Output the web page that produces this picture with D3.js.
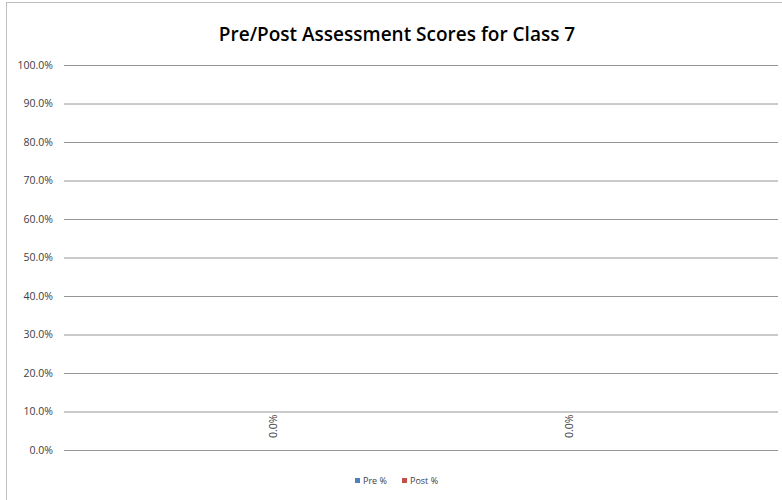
<!DOCTYPE html>
<html>
<head>
<meta charset="utf-8">
<script src="https://cdn.jsdelivr.net/npm/d3@7"></script>
<style>
  body { margin: 0; background: #fff; }
  text { font-family: "Open Sans", "Liberation Sans", sans-serif; }
</style>
</head>
<body>
<div id="chart"></div>
<script>
var categories = [""];
var seriesNames = ["Pre %", "Post %"];
var preValues = [0.0];
var postValues = [0.0];
var yTicks = [0, 0.1, 0.2, 0.3, 0.4, 0.5, 0.6, 0.7, 0.8, 0.9, 1.0];

var colors = ["#4F81BD", "#C0504D"];

var svgWidth = 782;
var svgHeight = 500;

var margin = { top: 65, right: 4, bottom: 50, left: 64 };
var width = svgWidth - margin.left - margin.right;
var height = svgHeight - margin.top - margin.bottom;

var svg = d3.select("#chart")
  .append("svg")
  .attr("width", svgWidth)
  .attr("height", svgHeight);

// chart frame
svg.append("rect")
  .attr("x", 6.5)
  .attr("y", 2.5)
  .attr("width", svgWidth - 6)
  .attr("height", svgHeight - 2)
  .attr("fill", "none")
  .attr("stroke", "#bfbfbf");

svg.append("text")
  .attr("x", 397)
  .attr("y", 41)
  .attr("text-anchor", "middle")
  .attr("font-size", 19)
  .attr("font-weight", 600)
  .attr("fill", "#000")
  .text("Pre/Post Assessment Scores for Class 7");

var chartGroup = svg.append("g")
  .attr("transform", `translate(${margin.left}, ${margin.top})`);

var data = categories.map((c, i) => ({ cat: c, values: [preValues[i], postValues[i]] }));

var x0 = d3.scaleBand()
  .domain(categories)
  .range([0, width])
  .paddingInner(0)
  .paddingOuter(0.103);

var x1 = d3.scaleBand()
  .domain(seriesNames)
  .range([0, x0.bandwidth()]);

var yScale = d3.scaleLinear()
  .domain([0, 1])
  .range([height, 0]);

// gridlines
var leftAxis = d3.axisLeft(yScale)
  .tickValues(yTicks)
  .tickSize(-width)
  .tickPadding(11)
  .tickFormat(d3.format(".1%"));

var yAxis = chartGroup.append("g").call(leftAxis);
yAxis.select(".domain").remove();
yAxis.selectAll("line").attr("stroke", "#969696").attr("stroke-width", 1);
yAxis.selectAll("text")
  .attr("font-size", 10.5)
  .attr("fill", "#404040")
  .style("font-family", "'Open Sans', sans-serif");

// bars and data labels
var groups = chartGroup.selectAll(".cat")
  .data(data)
  .enter()
  .append("g")
  .attr("transform", d => `translate(${x0(d.cat)},0)`);

var items = groups.selectAll(".bar")
  .data(d => d.values.map((v, i) => ({ name: seriesNames[i], value: v, color: colors[i] })))
  .enter();

items.append("rect")
  .attr("x", d => x1(d.name))
  .attr("width", x1.bandwidth())
  .attr("y", d => yScale(d.value))
  .attr("height", d => height - yScale(d.value))
  .attr("fill", d => d.color);

items.append("text")
  .attr("transform", d => `translate(${x1(d.name) + x1.bandwidth() / 2 + 4}, ${yScale(d.value) - 12}) rotate(-90)`)
  .attr("font-size", 10.5)
  .attr("fill", "#404040")
  .text(d => d3.format(".1%")(d.value));

// legend
var legendItems = [
  { name: seriesNames[0], color: colors[0], x: 355 },
  { name: seriesNames[1], color: colors[1], x: 402 }
];
var legend = svg.append("g");
legendItems.forEach(it => {
  legend.append("rect")
    .attr("x", it.x)
    .attr("y", 478)
    .attr("width", 5)
    .attr("height", 5)
    .attr("fill", it.color);
  legend.append("text")
    .attr("x", it.x + 8)
    .attr("y", 484)
    .attr("font-size", 9)
    .attr("fill", "#404040")
    .text(it.name);
});
</script>
</body>
</html>
